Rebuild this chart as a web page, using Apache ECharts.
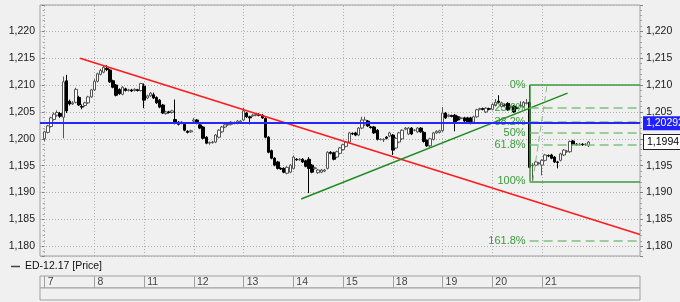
<!DOCTYPE html>
<html><head><meta charset="utf-8">
<script src="https://cdn.jsdelivr.net/npm/echarts@6/dist/echarts.min.js"></script>
<style>html,body{margin:0;padding:0;background:#f0f0f0;}#c{width:680px;height:302px;}</style>
</head><body><div id="c"></div>
<script>
// ---------- data ----------
const dayLabels = ['7','8','11','12','13','14','15','18','19','20','21'];
const dayStartIdx = [0,16,32,48,64,80,96,112,128,144,160];
const yTickValues = [1.180,1.185,1.190,1.195,1.200,1.205,1.210,1.215,1.220];

const opens = [
 1.2000,1.2012,1.2023,1.2036,1.2044,1.2047,1.2040,1.2108,1.2070,1.2065,1.2068,1.2077,1.2060,1.2062,1.2067,1.2078,
 1.2091,1.2107,1.2120,1.2124,1.2131,1.2128,1.2108,1.2100,1.2092,1.2083,1.2093,1.2090,1.2091,1.2090,1.2091,1.2090,
 1.2098,1.2076,1.2080,1.2082,1.2077,1.2072,1.2063,1.2047,1.2050,1.2049,1.2036,1.2031,1.2029,1.2027,1.2014,1.2013,
 1.2033,1.2035,1.2026,1.2022,1.2003,1.1992,1.1993,1.1994,1.2003,1.2013,1.2022,1.2026,1.2027,1.2030,1.2029,1.2031,
 1.2035,1.2048,1.2041,1.2043,1.2044,1.2045,1.2044,1.2038,1.2003,1.1978,1.1964,1.1957,1.1945,1.1945,1.1936,1.1938,
 1.1945,1.1962,1.1961,1.1962,1.1959,1.1962,1.1951,1.1945,1.1937,1.1938,1.1940,1.1945,1.1975,1.1974,1.1966,1.1973,
 1.1980,1.1986,1.1994,1.2010,1.2011,1.2007,1.2020,1.2026,1.2033,1.2022,1.2022,1.2016,1.1999,1.1998,1.2003,1.2005,
 1.2007,1.1983,1.1994,1.2000,1.2018,1.2009,1.2020,1.2016,1.2013,1.2020,1.2012,1.1997,1.1987,1.1999,1.2011,1.2012,
 1.2015,1.2048,1.2042,1.2043,1.2044,1.2041,1.2038,1.2039,1.2039,1.2039,1.2031,1.2041,1.2055,1.2056,1.2050,1.2056,
 1.2055,1.2062,1.2070,1.2060,1.2063,1.2066,1.2059,1.2061,1.2058,1.2061,1.2060,1.2066,1.2068,1.1950,1.1951,1.1954,
 1.1951,1.1960,1.1969,1.1970,1.1966,1.1957,1.1960,1.1970,1.1976,1.1976,1.1996,1.1990,1.1989,1.1990,1.1989,1.1987
];
const closes = [
 1.2013,1.2024,1.2039,1.2046,1.2049,1.2042,1.2106,1.2052,1.2065,1.2067,1.2092,1.2063,1.2059,1.2067,1.2078,1.2091,
 1.2107,1.2121,1.2127,1.2133,1.2129,1.2106,1.2096,1.2081,1.2084,1.2096,1.2090,1.2091,1.2089,1.2092,1.2090,1.2103,
 1.2072,1.2080,1.2085,1.2076,1.2067,1.2059,1.2048,1.2050,1.2049,1.2052,1.2031,1.2027,1.2031,1.2016,1.2012,1.2015,
 1.2035,1.2029,1.2020,1.2001,1.1992,1.1993,1.1994,1.2007,1.2016,1.2022,1.2026,1.2027,1.2031,1.2029,1.2033,1.2033,
 1.2052,1.2041,1.2039,1.2044,1.2045,1.2044,1.2039,1.2003,1.1975,1.1964,1.1951,1.1945,1.1944,1.1938,1.1947,1.1951,
 1.1966,1.1961,1.1962,1.1957,1.1949,1.1945,1.1938,1.1946,1.1942,1.1942,1.1942,1.1975,1.1973,1.1962,1.1976,1.1983,
 1.1989,1.1994,1.2011,1.2009,1.2007,1.2020,1.2035,1.2035,1.2024,1.2021,1.2011,1.1999,1.1999,1.1999,1.2001,1.2011,
 1.1979,1.2001,1.2011,1.2016,1.2020,1.2020,1.2009,1.2016,1.2020,1.2013,1.1995,1.1987,1.2000,1.2011,1.2014,1.2015,
 1.2048,1.2039,1.2044,1.2042,1.2031,1.2035,1.2039,1.2033,1.2031,1.2029,1.2041,1.2054,1.2056,1.2055,1.2057,1.2055,
 1.2064,1.2068,1.2068,1.2067,1.2062,1.2054,1.2060,1.2050,1.2057,1.2062,1.2068,1.2067,1.1947,1.1951,1.1957,1.1955,
 1.1960,1.1970,1.1968,1.1964,1.1957,1.1956,1.1972,1.1979,1.1977,1.1995,1.1990,1.1989,1.1990,1.1989,1.1990,1.1994
];
const lows = [
 1.1996,1.2010,1.2021,1.2034,1.2041,1.2039,1.2001,1.2048,1.2062,1.2063,1.2066,1.2061,1.2055,1.2060,1.2065,1.2076,
 1.2089,1.2105,1.2118,1.2122,1.2126,1.2104,1.2094,1.2079,1.2082,1.2081,1.2088,1.2088,1.2087,1.2088,1.2088,1.2088,
 1.2057,1.2074,1.2078,1.2074,1.2065,1.2057,1.2046,1.2045,1.2047,1.2047,1.2027,1.2025,1.2027,1.2014,1.2010,1.2011,
 1.2030,1.2027,1.2018,1.1999,1.1990,1.1989,1.1991,1.1992,1.2001,1.2011,1.2020,1.2024,1.2025,1.2027,1.2027,1.2029,
 1.2033,1.2039,1.2027,1.2041,1.2042,1.2042,1.2037,1.2001,1.1973,1.1962,1.1949,1.1943,1.1942,1.1936,1.1934,1.1936,
 1.1943,1.1959,1.1959,1.1955,1.1947,1.1899,1.1936,1.1943,1.1935,1.1936,1.1938,1.1943,1.1971,1.1960,1.1964,1.1971,
 1.1978,1.1984,1.1992,1.2007,1.2005,1.2005,1.2018,1.2024,1.2022,1.2019,1.2009,1.1997,1.1997,1.1994,1.1999,1.2003,
 1.1970,1.1981,1.1992,1.1998,1.2016,1.2007,1.2007,1.2014,1.2011,1.2011,1.1993,1.1985,1.1985,1.1997,1.2009,1.2010,
 1.2013,1.2037,1.2040,1.2040,1.2014,1.2033,1.2036,1.2031,1.2029,1.2027,1.2029,1.2039,1.2053,1.2053,1.2048,1.2053,
 1.2053,1.2060,1.2066,1.2058,1.2060,1.2052,1.2057,1.2048,1.2055,1.2059,1.2058,1.2064,1.1945,1.1921,1.1949,1.1952,
 1.1932,1.1958,1.1966,1.1962,1.1955,1.1945,1.1958,1.1968,1.1974,1.1974,1.1988,1.1987,1.1987,1.1987,1.1987,1.1985
];
const highs = [
 1.2015,1.2026,1.2041,1.2049,1.2053,1.2050,1.2116,1.2119,1.2073,1.2070,1.2095,1.2080,1.2064,1.2069,1.2080,1.2093,
 1.2111,1.2123,1.2130,1.2136,1.2137,1.2130,1.2110,1.2102,1.2094,1.2098,1.2095,1.2093,1.2093,1.2094,1.2093,1.2104,
 1.2103,1.2082,1.2087,1.2086,1.2079,1.2074,1.2065,1.2052,1.2052,1.2054,1.2073,1.2033,1.2033,1.2029,1.2016,1.2017,
 1.2039,1.2037,1.2028,1.2024,1.2005,1.1995,1.1996,1.2009,1.2018,1.2024,1.2028,1.2029,1.2033,1.2032,1.2035,1.2035,
 1.2058,1.2050,1.2043,1.2046,1.2047,1.2048,1.2046,1.2040,1.2005,1.1980,1.1966,1.1959,1.1947,1.1947,1.1949,1.1953,
 1.1969,1.1964,1.1964,1.1964,1.1961,1.1966,1.1953,1.1948,1.1944,1.1944,1.1944,1.1977,1.1977,1.1976,1.1978,1.1985,
 1.1991,1.1996,1.2013,1.2012,1.2013,1.2022,1.2041,1.2041,1.2035,1.2024,1.2024,1.2018,1.2001,1.2001,1.2005,1.2013,
 1.2009,1.2003,1.2013,1.2018,1.2022,1.2022,1.2022,1.2018,1.2022,1.2022,1.2014,1.1999,1.2002,1.2013,1.2016,1.2017,
 1.2059,1.2050,1.2046,1.2045,1.2046,1.2043,1.2041,1.2041,1.2041,1.2041,1.2043,1.2056,1.2058,1.2058,1.2059,1.2058,
 1.2066,1.2074,1.2081,1.2069,1.2065,1.2068,1.2062,1.2063,1.2060,1.2070,1.2070,1.2074,1.2100,1.1955,1.1959,1.1957,
 1.1962,1.1972,1.1971,1.1972,1.1968,1.1959,1.1974,1.1981,1.1979,1.1997,1.1998,1.1992,1.1992,1.1992,1.1992,1.1996
];

// drawing tools (x = bar index, y = price)
const redTrend = [[11.4, 1.2150], [191.5, 1.1822]];
const greenTrend = [[82.5, 1.1888], [168.2, 1.2085]];
const blueLevel = 1.20292;
const fibLabels = ['0%','23.6%','38.2%','50%','61.8%','100%','161.8%'];
const fibPrices = [1.2100, 1.2058, 1.2032, 1.2011, 1.1989, 1.1921, 1.1810];
const fibStartIdx = 156;
const fibDiagonal = [[157, 1.1921], [161.6, 1.2100]];

// ---------- layout helpers ----------
const Y_MIN = 1.1782, Y_MAX = 1.2249;
const X_MIN = -1.5, X_MAX = 191.5;
const nSlots = 193;
const slots = [];
for (let i = 0; i < nSlots; i++) slots.push(String(i));
const candleData = ['-'];
for (let k = 0; k < opens.length; k++) candleData.push([opens[k], closes[k], lows[k], highs[k]]);
while (candleData.length < nSlots) candleData.push('-');
const lastClose = closes[closes.length - 1];

const FONT = "'Liberation Sans', Arial, sans-serif";
const fmtTick = (v, hideNear) => {
  const t = yTickValues.find(t => Math.abs(t - v) < 1e-7);
  if (t === undefined) return '';
  if (hideNear != null && Math.abs(t - hideNear) < 0.0008) return '';
  return t.toFixed(3).replace('.', ',');
};
const yCommon = {
  min: Y_MIN, max: Y_MAX, scale: true, splitNumber: 9,
  minInterval: 0.005, maxInterval: 0.005,
  axisLine: {show: false},
  axisTick: {show: true, length: 3, lineStyle: {color: '#808080'}},
  minorTick: {show: true, splitNumber: 5, length: 2, lineStyle: {color: '#a0a0a0'}},
};

const fibSolid = {color: '#3f9a3f', width: 1.5, type: 'solid'};
const fibDash = {color: '#80c080', width: 1.5, type: [9, 5]};
const fibLines = fibPrices.map((p, i) => {
  const solid = (fibLabels[i] === '0%' || fibLabels[i] === '100%');
  return [
    {coord: [fibStartIdx, p], lineStyle: solid ? fibSolid : fibDash,
     label: {show: true, position: 'start', distance: 4, formatter: fibLabels[i],
             color: '#3a9a3a', fontSize: 11, fontFamily: FONT}},
    {coord: [X_MAX, p]}
  ];
});
fibLines.push([{coord: [fibStartIdx, fibPrices[0]], lineStyle: fibSolid, label: {show: false}},
               {coord: [fibStartIdx, fibPrices[5]]}]);
fibLines.push([{coord: fibDiagonal[0], lineStyle: {color: '#80c080', width: 1, type: [6, 4]}, label: {show: false}},
               {coord: fibDiagonal[1]}]);

const chart = echarts.init(document.getElementById('c'), null, {renderer: 'canvas'});
chart.setOption({
  animation: false,
  backgroundColor: '#f0f0f0',
  textStyle: {fontFamily: FONT},
  legend: {
    left: 11, top: 261, padding: 0, itemWidth: 9, itemHeight: 1.5, selectedMode: false,
    textStyle: {fontSize: 10.5, color: '#111', fontFamily: FONT},
    data: [{name: 'ED-12.17 [Price]', icon: 'rect', itemStyle: {color: '#444', borderWidth: 0}}]
  },
  grid: [
    {left: 40, top: 5, width: 600, height: 251, show: true, borderColor: '#a0a0a0', borderWidth: 1, backgroundColor: '#f0f0f0'},
    {left: 40, top: 276, width: 600, height: 12, show: true, borderColor: '#a0a0a0', borderWidth: 1, backgroundColor: '#f0f0f0'},
    {left: 40, top: 288, width: 600, height: 12, show: true, borderColor: '#a0a0a0', borderWidth: 1, backgroundColor: '#f0f0f0'}
  ],
  xAxis: [
    {type: 'category', gridIndex: 0, data: slots, boundaryGap: true, show: false},
    {type: 'value', gridIndex: 0, min: X_MIN, max: X_MAX, show: false},
    {type: 'value', gridIndex: 1, min: X_MIN, max: X_MAX, show: false},
    {type: 'value', gridIndex: 2, min: X_MIN, max: X_MAX, show: false}
  ],
  yAxis: [
    Object.assign({}, yCommon, {type: 'value', gridIndex: 0, position: 'left',
      splitLine: {show: true, lineStyle: {color: '#b0b0b0', type: [1, 2]}},
      axisLabel: {fontSize: 10.5, color: '#1a1a1a', margin: 5, fontFamily: FONT, formatter: v => fmtTick(v)}}),
    Object.assign({}, yCommon, {type: 'value', gridIndex: 0, position: 'right',
      splitLine: {show: false},
      axisLabel: {fontSize: 10.5, color: '#1a1a1a', margin: 6, fontFamily: FONT, formatter: v => fmtTick(v, lastClose)}}),
    {type: 'value', gridIndex: 1, min: 0, max: 1, show: false},
    {type: 'value', gridIndex: 2, min: 0, max: 1, show: false}
  ],
  series: [
    { // vertical day grid lines
      type: 'line', xAxisIndex: 1, yAxisIndex: 0, data: [[dayStartIdx[0], Y_MIN]], symbol: 'none',
      lineStyle: {opacity: 0}, silent: true,
      markLine: {silent: true, z: 1, precision: 6, symbol: ['none', 'none'], label: {show: false},
        lineStyle: {color: '#b0b0b0', type: [1, 2], width: 1},
        data: dayStartIdx.map(k => ({xAxis: k}))}
    },
    {
      name: 'ED-12.17 [Price]', type: 'candlestick', xAxisIndex: 0, yAxisIndex: 0,
      data: candleData, barWidth: 3, z: 2,
      itemStyle: {color: '#ffffff', color0: '#000000', borderColor: '#555555', borderColor0: '#000000', borderWidth: 1},
      markLine: {
        silent: true, z: 6, precision: 6, symbol: ['none', 'none'],
        data: [
          {yAxis: blueLevel, lineStyle: {color: '#2626ff', width: 2, type: 'solid'},
           label: {show: true, position: 'end', distance: 3, formatter: '1,20292', color: '#ffffff',
                   backgroundColor: '#1f1fff', padding: [2, 2, 1, 3], fontSize: 10.5, fontFamily: FONT}},
          {yAxis: lastClose, lineStyle: {color: 'rgba(0,0,0,0)', width: 0},
           label: {show: true, position: 'end', distance: 4, formatter: lastClose.toFixed(4).replace('.', ','),
                   color: '#000', backgroundColor: '#ffffff', borderColor: '#222', borderWidth: 1,
                   padding: [2, 3, 1, 3], fontSize: 10.5, fontFamily: FONT}}
        ]
      }
    },
    {type: 'line', xAxisIndex: 1, yAxisIndex: 0, data: redTrend, symbol: 'none', z: 4, silent: true,
     lineStyle: {color: '#ff1a1a', width: 1.5}},
    {type: 'line', xAxisIndex: 1, yAxisIndex: 0, data: greenTrend, symbol: 'none', z: 4, silent: true,
     lineStyle: {color: '#1e8c1e', width: 1.5}},
    { // fibonacci retracement
      type: 'line', xAxisIndex: 1, yAxisIndex: 0, data: [[fibStartIdx, fibPrices[0]]], symbol: 'none',
      lineStyle: {opacity: 0}, silent: true,
      markLine: {silent: true, z: 5, precision: 6, symbol: ['none', 'none'], data: fibLines}
    },
    { // day labels panel
      type: 'scatter', xAxisIndex: 2, yAxisIndex: 2, symbolSize: 0, silent: true,
      data: dayStartIdx.map((k, i) => ({value: [k, 0.5], name: dayLabels[i]})),
      label: {show: true, position: 'right', distance: 3, formatter: '{b}', color: '#111', fontSize: 10.5, fontFamily: FONT},
      markLine: {silent: true, precision: 6, symbol: ['none', 'none'], label: {show: false},
        lineStyle: {color: '#a0a0a0', type: 'solid', width: 1},
        data: dayStartIdx.map(k => ({xAxis: k}))}
    }
  ]
});
</script>
</body></html>
